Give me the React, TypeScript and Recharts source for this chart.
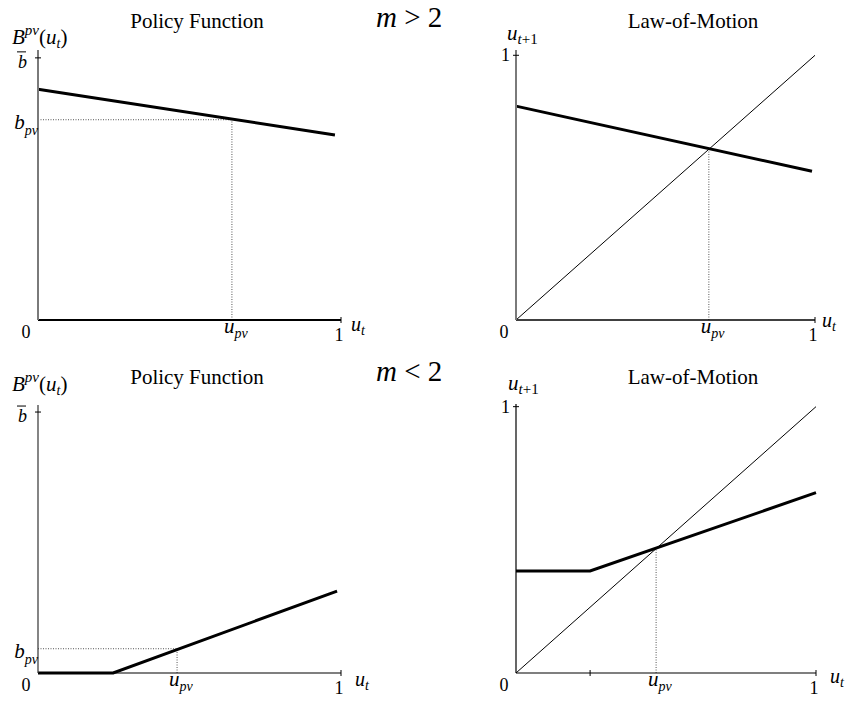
import React from 'react';
import { LineChart, Line, XAxis, YAxis, ReferenceLine } from 'recharts';

const serif = '"Liberation Serif", "Times New Roman", Times, serif';

// m > 2
const topPolicy = [{ u: 0, b: 0.88 }, { u: 0.98, b: 0.706 }];
const topPolicyUpv = 0.64;
const topPolicyBpv = 0.764;
const topLaw = [{ u: 0, v: 0.808 }, { u: 0.99, v: 0.562 }];
const topLawUpv = 0.645;

// m < 2
const botPolicy = [{ u: 0, b: 0 }, { u: 0.248, b: 0 }, { u: 0.987, b: 0.314 }];
const botPolicyUpv = 0.459;
const botPolicyBpv = 0.093;
const botLaw = [{ u: 0, v: 0.383 }, { u: 0.247, v: 0.383 }, { u: 1, v: 0.677 }];
const botLawKink = 0.247;
const botLawUpv = 0.467;

// 45 degree line
const diagonal = [{ u: 0, v: 0 }, { u: 1, v: 1 }];

const dotted = { stroke: '#555', strokeWidth: 1, strokeDasharray: '1 1.5' };

const UPv = ({ x, y }: { x: number; y: number }) => (
    <text x={x} y={y} fontFamily={serif} fontSize={21} fontStyle="italic">
        u<tspan fontSize={14} dy={5}>pv</tspan>
    </text>
);

const XTick = (props: any) => {
    const { x = 0, y = 0, payload, upv, marks } = props;
    const v = payload?.value;
    return (
        <g>
            {marks.includes(v) && <line x1={x} x2={x} y1={y - 3} y2={y + 3} stroke="#000" strokeWidth={1} />}
            {v === 0 && (
                <text x={x - 12} y={y + 18} textAnchor="middle" fontFamily={serif} fontSize={18}>0</text>
            )}
            {v === 1 && (
                <text x={x - 2} y={y + 21} textAnchor="middle" fontFamily={serif} fontSize={18}>1</text>
            )}
            {v === upv && <UPv x={x - 8} y={y + 13} />}
        </g>
    );
};

const YTick = (props: any) => {
    const { x = 0, y = 0, payload, top, bpv } = props;
    const v = payload?.value;
    if (v === 1) {
        return (
            <g>
                <line x1={x - 3} x2={x + 3} y1={y} y2={y} stroke="#000" strokeWidth={1} />
                {top === 'bbar' ? (
                    <>
                        <text x={x - 11} y={y + 10} textAnchor="end" fontFamily={serif} fontSize={18} fontStyle="italic">b</text>
                        <line x1={x - 21} x2={x - 12} y1={y - 6} y2={y - 6} stroke="#000" strokeWidth={1} />
                    </>
                ) : (
                    <text x={x - 6} y={y + 6} textAnchor="end" fontFamily={serif} fontSize={18}>1</text>
                )}
            </g>
        );
    }
    if (v === bpv) {
        return (
            <text x={x} y={y + 9} textAnchor="end" fontFamily={serif} fontSize={21} fontStyle="italic">
                b<tspan fontSize={14} dy={6}>pv</tspan>
            </text>
        );
    }
    return <g />;
};

const Ut = ({ x, y }: { x: number; y: number }) => (
    <text x={x} y={y} fontFamily={serif} fontSize={20} fontStyle="italic">
        u<tspan fontSize={14} dy={4}>t</tspan>
    </text>
);

const BLabel = ({ x, y }: { x: number; y: number }) => (
    <text x={x} y={y} fontFamily={serif} fontSize={21}>
        <tspan fontStyle="italic">B</tspan>
        <tspan fontStyle="italic" fontSize={15} dy={-9}>pv</tspan>
        <tspan dy={9}>(</tspan>
        <tspan fontStyle="italic">u</tspan>
        <tspan fontStyle="italic" fontSize={14} dy={4}>t</tspan>
        <tspan dy={-4}>)</tspan>
    </text>
);

const UNext = ({ x, y }: { x: number; y: number }) => (
    <text x={x} y={y} fontFamily={serif} fontSize={21} fontStyle="italic">
        u<tspan fontSize={15} dy={4}>t</tspan>
        <tspan fontSize={15} fontStyle="normal">+1</tspan>
    </text>
);

const Title = ({ x, y, children }: { x: number; y: number; children: React.ReactNode }) => (
    <text x={x} y={y} textAnchor="middle" fontFamily={serif} fontSize={21}>{children}</text>
);

const Regime = ({ x, y, sign }: { x: number; y: number; sign: string }) => (
    <text x={x} y={y} fontFamily={serif} fontSize={29}>
        <tspan fontStyle="italic">m</tspan> {sign} 2
    </text>
);

export default function App() {
    return (
        <div style={{ position: 'absolute', left: 0, top: 0, width: 845, height: 705, background: '#fff' }}>
            {/* m > 2, policy */}
            <div style={{ position: 'absolute', left: 0, top: 0 }}>
                <LineChart width={422} height={352} margin={{ top: 50, right: 81, bottom: 31, left: 37 }}>
                    <XAxis type="number" dataKey="u" domain={[0, 1]} ticks={[0, topPolicyUpv, 1]} interval={0}
                        height={1} tickSize={0} tickMargin={0} tickLine={false}
                        axisLine={{ stroke: '#000', strokeWidth: 2 }}
                        tick={(p: any) => <XTick {...p} upv={topPolicyUpv} marks={[1]} />} />
                    <YAxis type="number" domain={[0, 1.03]} ticks={[topPolicyBpv, 1]} interval={0}
                        width={1} tickSize={0} tickMargin={0} tickLine={false}
                        axisLine={{ stroke: '#7a7a7a', strokeWidth: 2 }}
                        tick={(p: any) => <YTick {...p} top="bbar" bpv={topPolicyBpv} />} />
                    <ReferenceLine segment={[{ x: 0, y: topPolicyBpv }, { x: topPolicyUpv, y: topPolicyBpv }]} {...dotted} />
                    <ReferenceLine segment={[{ x: topPolicyUpv, y: 0 }, { x: topPolicyUpv, y: topPolicyBpv }]} {...dotted} />
                    <Line data={topPolicy} dataKey="b" type="linear" stroke="#000" strokeWidth={3}
                        dot={false} activeDot={false} isAnimationActive={false} />
                </LineChart>
            </div>

            {/* m > 2, law of motion */}
            <div style={{ position: 'absolute', left: 422, top: 0 }}>
                <LineChart width={423} height={352} margin={{ top: 50, right: 30, bottom: 31, left: 93 }}>
                    <XAxis type="number" dataKey="u" domain={[0, 1]} ticks={[0, topLawUpv, 1]} interval={0}
                        height={1} tickSize={0} tickMargin={0} tickLine={false}
                        axisLine={{ stroke: '#000', strokeWidth: 1.5 }}
                        tick={(p: any) => <XTick {...p} upv={topLawUpv} marks={[1]} />} />
                    <YAxis type="number" domain={[0, 1.02]} ticks={[1]} interval={0}
                        width={1} tickSize={0} tickMargin={0} tickLine={false}
                        axisLine={{ stroke: '#7a7a7a', strokeWidth: 2 }}
                        tick={(p: any) => <YTick {...p} top="one" />} />
                    <ReferenceLine segment={[{ x: topLawUpv, y: 0 }, { x: topLawUpv, y: topLawUpv }]} {...dotted} />
                    <Line data={diagonal} dataKey="v" type="linear" stroke="#000" strokeWidth={1}
                        dot={false} activeDot={false} isAnimationActive={false} />
                    <Line data={topLaw} dataKey="v" type="linear" stroke="#000" strokeWidth={3}
                        dot={false} activeDot={false} isAnimationActive={false} />
                </LineChart>
            </div>

            {/* m < 2, policy */}
            <div style={{ position: 'absolute', left: 0, top: 352 }}>
                <LineChart width={422} height={353} margin={{ top: 53, right: 81, bottom: 31, left: 37 }}>
                    <XAxis type="number" dataKey="u" domain={[0, 1]} ticks={[0, botPolicyUpv, 1]} interval={0}
                        height={1} tickSize={0} tickMargin={0} tickLine={false}
                        axisLine={{ stroke: '#000', strokeWidth: 1.2 }}
                        tick={(p: any) => <XTick {...p} upv={botPolicyUpv} marks={[1]} />} />
                    <YAxis type="number" domain={[0, 1.027]} ticks={[botPolicyBpv, 1]} interval={0}
                        width={1} tickSize={0} tickMargin={0} tickLine={false}
                        axisLine={{ stroke: '#333', strokeWidth: 1.2 }}
                        tick={(p: any) => <YTick {...p} top="bbar" bpv={botPolicyBpv} />} />
                    <ReferenceLine segment={[{ x: 0, y: botPolicyBpv }, { x: botPolicyUpv, y: botPolicyBpv }]} {...dotted} />
                    <ReferenceLine segment={[{ x: botPolicyUpv, y: 0 }, { x: botPolicyUpv, y: botPolicyBpv }]} {...dotted} />
                    <Line data={botPolicy} dataKey="b" type="linear" stroke="#000" strokeWidth={3}
                        dot={false} activeDot={false} isAnimationActive={false} />
                </LineChart>
            </div>

            {/* m < 2, law of motion */}
            <div style={{ position: 'absolute', left: 422, top: 352 }}>
                <LineChart width={423} height={353} margin={{ top: 52, right: 29, bottom: 31, left: 93 }}>
                    <XAxis type="number" dataKey="u" domain={[0, 1]} ticks={[0, botLawKink, botLawUpv, 1]} interval={0}
                        height={1} tickSize={0} tickMargin={0} tickLine={false}
                        axisLine={{ stroke: '#000', strokeWidth: 1.2 }}
                        tick={(p: any) => <XTick {...p} upv={botLawUpv} marks={[botLawKink, 1]} />} />
                    <YAxis type="number" domain={[0, 1.01]} ticks={[1]} interval={0}
                        width={1} tickSize={0} tickMargin={0} tickLine={false}
                        axisLine={{ stroke: '#000', strokeWidth: 1.2 }}
                        tick={(p: any) => <YTick {...p} top="one" />} />
                    <ReferenceLine segment={[{ x: botLawUpv, y: 0 }, { x: botLawUpv, y: botLawUpv }]} {...dotted} />
                    <Line data={diagonal} dataKey="v" type="linear" stroke="#000" strokeWidth={1}
                        dot={false} activeDot={false} isAnimationActive={false} />
                    <Line data={botLaw} dataKey="v" type="linear" stroke="#000" strokeWidth={3}
                        dot={false} activeDot={false} isAnimationActive={false} />
                </LineChart>
            </div>

            {/* titles and axis names */}
            <svg width={845} height={705} style={{ position: 'absolute', left: 0, top: 0, pointerEvents: 'none' }}>
                <Title x={197} y={28}>Policy Function</Title>
                <Title x={693} y={28}>Law-of-Motion</Title>
                <Title x={197} y={384}>Policy Function</Title>
                <Title x={693} y={384}>Law-of-Motion</Title>
                <Regime x={376} y={27} sign=">" />
                <Regime x={376} y={381} sign="<" />
                <BLabel x={12} y={44} />
                <BLabel x={12} y={391} />
                <UNext x={507} y={40} />
                <UNext x={508} y={390} />
                <Ut x={351} y={331} />
                <Ut x={822} y={327} />
                <Ut x={355} y={686} />
                <Ut x={830} y={683} />
            </svg>
        </div>
    );
}
